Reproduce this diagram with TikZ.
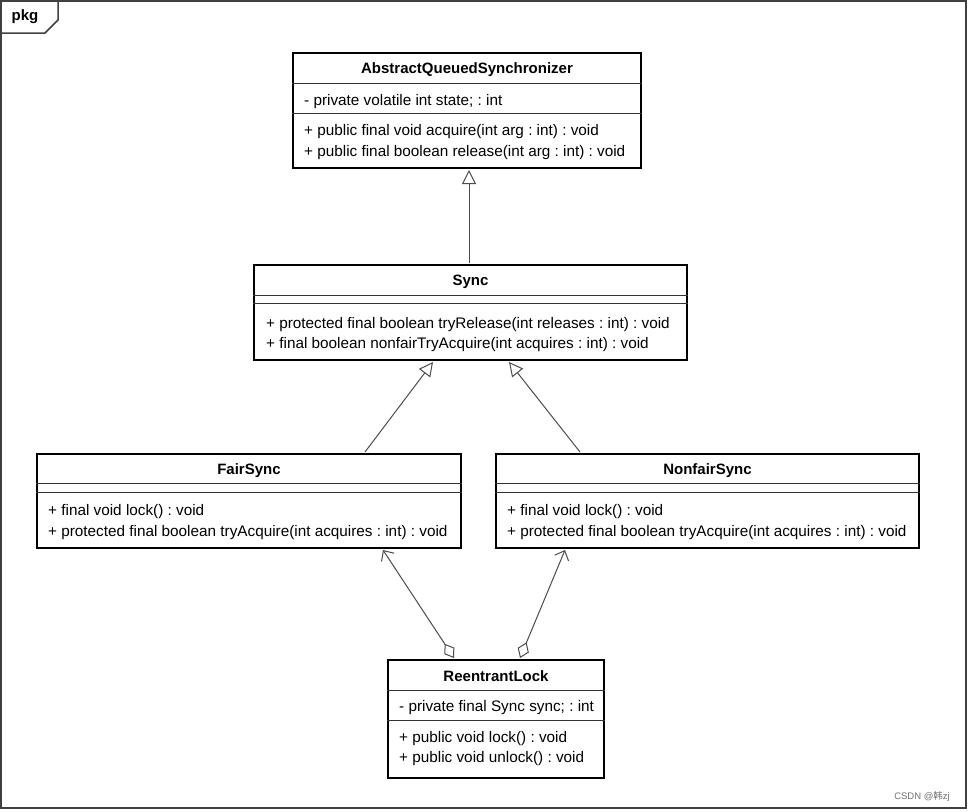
\documentclass[tikz,border=0pt]{standalone}
\usepackage{fontspec}
\setmainfont{Liberation Sans}
\newfontfamily\cjk{Noto Sans CJK SC}
\usetikzlibrary{arrows.meta,calc}
\begin{document}
\frenchspacing
\begin{tikzpicture}[x=1pt,y=-1pt,
  box/.style={draw=black,line width=2pt,fill=white,inner sep=0pt},
  sep/.style={draw=black!80,line width=1pt},
  txt/.style={inner sep=0pt,anchor=west,font=\fontsize{15.3}{18}\selectfont},
  ttl/.style={inner sep=0pt,font=\fontsize{15}{18}\selectfont\bfseries},
  conn/.style={draw=black!70,line width=1pt},
  inh/.style={conn,-{Triangle[open,length=14pt,width=14pt,fill=white]}},
  agg/.style={conn,{Diamond[open,length=17pt,width=12pt,fill=white]}-{Straight Barb[length=8pt,width=15pt]}}
]
\useasboundingbox (0,0) rectangle (968,811);
\fill[white] (0,0) rectangle (968,811);
% frame
\draw[black!75,line width=1.5pt] (1,1) rectangle (966,808);
\draw[black!75,line width=1.5pt] (0,33) -- (45,33) -- (58,20) -- (58,0);
\node[inner sep=0pt,font=\fontsize{15}{18}\selectfont\bfseries] (pkg) at (25,17) {pkg};

% AQS
\node[box,anchor=north west,minimum width=348pt,minimum height=115pt] (aqs) at (292,52) {};
\node[ttl] (aqst) at ($(aqs.north)+(0,18)$) {AbstractQueuedSynchronizer};
\draw[sep] ($(aqs.north west)+(0,31)$) -- ($(aqs.north east)+(0,31)$);
\node[txt] (aqsa) at ($(aqs.north west)+(12,50)$) {- private volatile int state; : int};
\draw[sep] ($(aqs.north west)+(0,61)$) -- ($(aqs.north east)+(0,61)$);
\node[txt] (aqsm1) at ($(aqs.north west)+(12,80)$) {+ public final void acquire(int arg : int) : void};
\node[txt] (aqsm2) at ($(aqs.north west)+(12,101)$) {+ public final boolean release(int arg : int) : void};

% Sync
\node[box,anchor=north west,minimum width=433pt,minimum height=95pt] (sync) at (253,264) {};
\node[ttl] (synct) at ($(sync.north)+(0,18)$) {Sync};
\draw[sep] ($(sync.north west)+(0,31)$) -- ($(sync.north east)+(0,31)$);
\draw[sep] ($(sync.north west)+(0,39)$) -- ($(sync.north east)+(0,39)$);
\node[txt] (syncm1) at ($(sync.north west)+(13,61)$) {+ protected final boolean tryRelease(int releases : int) : void};
\node[txt] (syncm2) at ($(sync.north west)+(13,81)$) {+ final boolean nonfairTryAcquire(int acquires : int) : void};

% FairSync
\node[box,anchor=north west,minimum width=424pt,minimum height=94pt] (fair) at (36,453) {};
\node[ttl] (fairt) at ($(fair.north)+(0,18)$) {FairSync};
\draw[sep] ($(fair.north west)+(0,30)$) -- ($(fair.north east)+(0,30)$);
\draw[sep] ($(fair.north west)+(0,39)$) -- ($(fair.north east)+(0,39)$);
\node[txt] (fairm1) at ($(fair.north west)+(12,59)$) {+ final void lock() : void};
\node[txt] (fairm2) at ($(fair.north west)+(12,80)$) {+ protected final boolean tryAcquire(int acquires : int) : void};

% NonfairSync
\node[box,anchor=north west,minimum width=423pt,minimum height=94pt] (nfair) at (495,453) {};
\node[ttl] (nfairt) at ($(nfair.north)+(0,18)$) {NonfairSync};
\draw[sep] ($(nfair.north west)+(0,30)$) -- ($(nfair.north east)+(0,30)$);
\draw[sep] ($(nfair.north west)+(0,39)$) -- ($(nfair.north east)+(0,39)$);
\node[txt] (nfairm1) at ($(nfair.north west)+(12,59)$) {+ final void lock() : void};
\node[txt] (nfairm2) at ($(nfair.north west)+(12,80)$) {+ protected final boolean tryAcquire(int acquires : int) : void};

% ReentrantLock
\node[box,anchor=north west,minimum width=216pt,minimum height=118pt] (rl) at (387,659) {};
\node[ttl] (rlt) at ($(rl.north)+(0,17)$) {ReentrantLock};
\draw[sep] ($(rl.north west)+(0,31)$) -- ($(rl.north east)+(0,31)$);
\node[txt] (rla) at ($(rl.north west)+(12,49)$) {- private final Sync sync; : int};
\draw[sep] ($(rl.north west)+(0,61)$) -- ($(rl.north east)+(0,61)$);
\node[txt] (rlm1) at ($(rl.north west)+(12,80)$) {+ public void lock() : void};
\node[txt] (rlm2) at ($(rl.north west)+(12,100)$) {+ public void unlock() : void};

% connectors
\draw[inh] ($(sync.north west)+(216,-1)$) -- ($(aqs.south west)+(177,1)$);
\draw[inh] ($(fair.north west)+(329,-1)$) -- ($(sync.south west)+(180,1)$);
\draw[inh] ($(nfair.north west)+(85,-1)$) -- ($(sync.south west)+(256,1)$);
\draw[agg] ($(rl.north west)+(67,-1)$) -- ($(fair.south west)+(347,1)$);
\draw[agg] ($(rl.north west)+(133,-1)$) -- ($(nfair.south west)+(70,1)$);

% watermark
\node[inner sep=0pt,anchor=east,text=black!55,font=\fontsize{9.5}{11}\selectfont] (wm) at (950,796) {CSDN @{\cjk 韩}zj};
\end{tikzpicture}
\end{document}
